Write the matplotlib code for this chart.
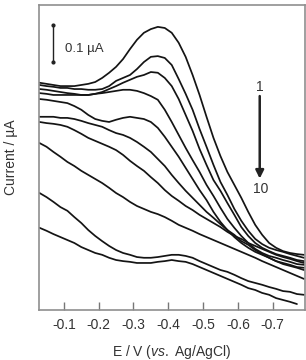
import numpy as np
import matplotlib
matplotlib.use("Agg")
import matplotlib.pyplot as plt

plt.rcParams['font.family'] = ['Liberation Sans', 'DejaVu Sans']
plt.rcParams['mathtext.fontset'] = 'custom'
plt.rcParams['mathtext.rm'] = 'Liberation Sans'
plt.rcParams['mathtext.it'] = 'Liberation Sans:italic'

# Potential grid (V vs. Ag/AgCl)
potential = [-0.03, -0.05, -0.07, -0.09, -0.11, -0.13, -0.15, -0.17, -0.19, -0.21,
             -0.23, -0.25, -0.27, -0.29, -0.31, -0.33, -0.35, -0.37, -0.39, -0.41,
             -0.43, -0.45, -0.47, -0.49, -0.51, -0.53, -0.55, -0.57, -0.59, -0.61,
             -0.63, -0.65, -0.67, -0.69, -0.71, -0.73, -0.75, -0.77, -0.79]

# Currents (µA, arbitrary offset) for scans 1..10
current_1 = [0.614, 0.611, 0.608, 0.605, 0.605, 0.605, 0.608, 0.611, 0.616, 0.627,
             0.641, 0.657, 0.678, 0.705, 0.730, 0.749, 0.759, 0.765, 0.762, 0.749,
             0.722, 0.684, 0.635, 0.581, 0.522, 0.465, 0.416, 0.373, 0.338, 0.303,
             0.265, 0.230, 0.203, 0.181, 0.168, 0.159, 0.154, 0.151, 0.149]
current_2 = [0.608, 0.605, 0.603, 0.600, 0.600, 0.597, 0.597, 0.595, 0.595, 0.597,
             0.605, 0.619, 0.627, 0.635, 0.651, 0.670, 0.684, 0.686, 0.681, 0.662,
             0.624, 0.584, 0.541, 0.489, 0.441, 0.392, 0.346, 0.311, 0.273, 0.241,
             0.214, 0.192, 0.178, 0.168, 0.162, 0.157, 0.151, 0.146, 0.141]
current_3 = [0.597, 0.595, 0.592, 0.589, 0.586, 0.584, 0.581, 0.581, 0.584, 0.589,
             0.597, 0.605, 0.614, 0.622, 0.630, 0.635, 0.643, 0.641, 0.627, 0.605,
             0.570, 0.527, 0.484, 0.435, 0.392, 0.351, 0.322, 0.289, 0.257, 0.224,
             0.200, 0.181, 0.168, 0.159, 0.151, 0.146, 0.141, 0.135, 0.132]
current_4 = [0.586, 0.584, 0.581, 0.581, 0.581, 0.581, 0.581, 0.581, 0.584, 0.586,
             0.589, 0.592, 0.595, 0.595, 0.592, 0.586, 0.578, 0.568, 0.541, 0.508,
             0.473, 0.438, 0.405, 0.373, 0.338, 0.308, 0.276, 0.246, 0.222, 0.200,
             0.181, 0.165, 0.154, 0.146, 0.141, 0.135, 0.130, 0.124, 0.122]
current_5 = [0.570, 0.568, 0.565, 0.562, 0.559, 0.551, 0.541, 0.527, 0.516, 0.511,
             0.508, 0.514, 0.519, 0.522, 0.519, 0.516, 0.508, 0.492, 0.468, 0.441,
             0.414, 0.384, 0.354, 0.324, 0.297, 0.265, 0.238, 0.216, 0.197, 0.181,
             0.168, 0.157, 0.149, 0.141, 0.132, 0.127, 0.122, 0.116, 0.114]
current_6 = [0.522, 0.522, 0.522, 0.519, 0.519, 0.516, 0.511, 0.505, 0.500, 0.495,
             0.486, 0.478, 0.473, 0.465, 0.454, 0.441, 0.427, 0.408, 0.389, 0.365,
             0.343, 0.322, 0.303, 0.284, 0.265, 0.249, 0.232, 0.216, 0.203, 0.186,
             0.176, 0.162, 0.151, 0.141, 0.132, 0.124, 0.119, 0.114, 0.108]
current_7 = [0.508, 0.505, 0.503, 0.500, 0.495, 0.486, 0.476, 0.465, 0.457, 0.449,
             0.441, 0.432, 0.419, 0.403, 0.389, 0.376, 0.359, 0.343, 0.324, 0.308,
             0.295, 0.281, 0.270, 0.257, 0.246, 0.235, 0.224, 0.211, 0.200, 0.192,
             0.181, 0.173, 0.165, 0.157, 0.149, 0.143, 0.138, 0.132, 0.127]
current_8 = [0.451, 0.441, 0.427, 0.414, 0.400, 0.389, 0.376, 0.365, 0.354, 0.343,
             0.330, 0.316, 0.305, 0.292, 0.281, 0.273, 0.265, 0.259, 0.251, 0.241,
             0.230, 0.222, 0.214, 0.205, 0.197, 0.189, 0.181, 0.173, 0.165, 0.157,
             0.149, 0.141, 0.132, 0.124, 0.116, 0.108, 0.100, 0.092, 0.084]
current_9 = [0.316, 0.305, 0.292, 0.278, 0.268, 0.251, 0.235, 0.216, 0.200, 0.186,
             0.173, 0.162, 0.154, 0.149, 0.143, 0.141, 0.141, 0.143, 0.146, 0.149,
             0.149, 0.146, 0.141, 0.132, 0.124, 0.116, 0.108, 0.103, 0.095, 0.086,
             0.078, 0.073, 0.068, 0.062, 0.057, 0.051, 0.049, 0.043, 0.041]
current_10 = [0.222, 0.214, 0.205, 0.197, 0.189, 0.181, 0.170, 0.162, 0.154, 0.149,
              0.141, 0.135, 0.132, 0.130, 0.127, 0.127, 0.127, 0.130, 0.132, 0.135,
              0.132, 0.130, 0.124, 0.116, 0.108, 0.100, 0.092, 0.084, 0.076, 0.068,
              0.059, 0.054, 0.046, 0.041, 0.032, 0.027, 0.022, 0.016, np.nan]

curves = [current_1, current_2, current_3, current_4, current_5,
          current_6, current_7, current_8, current_9, current_10]

xticks = [-0.1, -0.2, -0.3, -0.4, -0.5, -0.6, -0.7]
xtick_labels = ["-0.1", "-0.2", "-0.3", "-0.4", "-0.5", "-0.6", "-0.7"]

fig = plt.figure(figsize=(3.06, 3.60), dpi=100)
ax = fig.add_axes([0.127, 0.139, 0.869, 0.847])

for c in curves:
    ax.plot(potential, c, color='#141414', lw=1.25, solid_joinstyle='round',
            solid_capstyle='round')

ax.set_xlim(-0.028, -0.7925)
ax.set_ylim(0, 0.824)

ax.set_xticks(xticks)
ax.set_xticklabels(xtick_labels)
ax.set_yticks([])
ax.tick_params(axis='x', direction='in', length=6, width=1.0, color='#777777',
               labelsize=10, labelcolor='#333333', pad=6)
for s in ax.spines.values():
    s.set_color('#8f8f8f')
    s.set_linewidth(1.2)

ax.set_xlabel(r'E / V ($\mathit{vs.}$ Ag/AgCl)', fontsize=10, color='#333333', labelpad=8)
ax.set_ylabel('Current / µA', fontsize=10, color='#333333')
ax.yaxis.set_label_coords(-0.077, 0.5)

# scale bar 0.1 µA
sb_x = -0.0684
ax.plot([sb_x, sb_x], [0.670, 0.770], color='#222222', lw=1.0)
ax.plot([sb_x, sb_x], [0.670, 0.770], 'o', color='#222222', ms=2)
ax.text(-0.103, 0.705, '0.1 µA', fontsize=9.5, color='#333333', va='center', ha='left')

# arrow 1 -> 10
ax.annotate('', xy=(-0.663, 0.355), xytext=(-0.663, 0.578),
            arrowprops=dict(arrowstyle='-|>', color='#222222', lw=1.8,
                            mutation_scale=12, shrinkA=0, shrinkB=0))
ax.text(-0.663, 0.603, '1', fontsize=10, color='#333333', ha='center', va='center')
ax.text(-0.666, 0.328, '10', fontsize=10, color='#333333', ha='center', va='center')

fig.savefig('out.png', dpi=100)
